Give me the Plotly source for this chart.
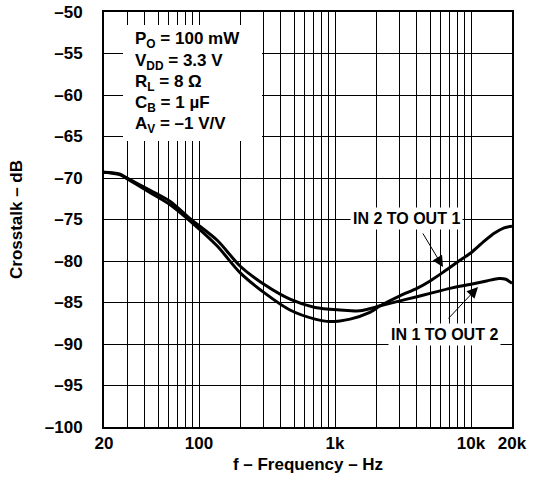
import plotly.graph_objects as go
import math

# ---- data ----
freq_in2_out1 = [20, 26, 31, 44, 61, 86, 136, 200, 306, 466, 713, 918, 1290, 1800,
                 2150, 3000, 4000, 5000, 6300, 8000, 10000, 12500, 15000, 17500, 20000]
xtalk_in2_out1 = [-69.3, -69.6, -70.3, -71.8, -73.2, -75.2, -78.2, -81.4, -83.9, -85.9,
                  -87.0, -87.3, -87.0, -86.2, -85.4, -84.2, -83.3, -82.4, -81.3, -80.1,
                  -79.0, -77.6, -76.6, -76.0, -75.8]

freq_in1_out2 = [20, 26, 31, 44, 61, 86, 136, 200, 306, 466, 713, 1088, 1520, 2150,
                 3000, 4000, 5000, 7000, 10000, 13000, 16000, 18000, 20000]
xtalk_in1_out2 = [-69.3, -69.5, -70.2, -71.5, -72.8, -74.9, -77.5, -80.6, -82.9, -84.6,
                  -85.6, -85.9, -86.0, -85.4, -84.8, -84.3, -83.9, -83.3, -82.8, -82.4,
                  -82.1, -82.2, -82.7]

x_major_vals = [20, 100, 1000, 10000, 20000]
x_major_text = ["20", "100", "1k", "10k", "20k"]
x_minor_vals = [30, 40, 50, 60, 70, 80, 90,
                200, 300, 400, 500, 600, 700, 800, 900,
                2000, 3000, 4000, 5000, 6000, 7000, 8000, 9000]

y_tick_vals = [-50, -55, -60, -65, -70, -75, -80, -85, -90, -95, -100]
y_tick_text = ["–" + str(abs(v)) for v in y_tick_vals]

cond_lines = ["P<sub>O</sub> = 100 mW",
              "V<sub>DD</sub> = 3.3 V",
              "R<sub>L</sub> = 8 Ω",
              "C<sub>B</sub> = 1 µF",
              "A<sub>V</sub> = –1 V/V"]

FONT = "Liberation Sans, Arial, Helvetica, sans-serif"

fig = go.Figure()
fig.add_trace(go.Scatter(x=freq_in2_out1, y=xtalk_in2_out1, mode="lines",
                         line=dict(color="black", width=3, shape="spline", smoothing=0.8),
                         name="IN 2 TO OUT 1", showlegend=False))
fig.add_trace(go.Scatter(x=freq_in1_out2, y=xtalk_in1_out2, mode="lines",
                         line=dict(color="black", width=3, shape="spline", smoothing=0.8),
                         name="IN 1 TO OUT 2", showlegend=False))

W, H = 535, 480
L, R, T, B = 104, 23, 12, 53
PW, PH = W - L - R, H - T - B

def px(xp):
    return (xp - L) / PW

def py(yp):
    return 1 - (yp - T) / PH

# white box behind the conditions text
fig.add_shape(type="rect", xref="paper", yref="paper",
              x0=px(123), x1=px(262), y0=py(141), y1=py(25),
              fillcolor="white", line=dict(width=0), layer="above")

cond_y = [38, 59.5, 80.5, 101.5, 122.5]
for txt, yy in zip(cond_lines, cond_y):
    fig.add_annotation(xref="paper", yref="paper", x=px(133), y=py(yy + 2),
                       text=txt, showarrow=False, xanchor="left", yanchor="middle",
                       font=dict(family=FONT, size=17, color="black", weight="bold"))

# curve labels
fig.add_annotation(xref="paper", yref="paper", x=px(406), y=py(218),
                   text="IN 2 TO OUT 1", showarrow=False, bgcolor="white", borderpad=2,
                   xanchor="center", yanchor="middle",
                   font=dict(family=FONT, size=16, color="black", weight="bold"))
fig.add_annotation(xref="paper", yref="paper", x=px(444), y=py(334),
                   text="IN 1 TO OUT 2", showarrow=False, bgcolor="white", borderpad=2,
                   xanchor="center", yanchor="middle",
                   font=dict(family=FONT, size=16, color="black", weight="bold"))

# arrows
fig.add_annotation(xref="paper", yref="paper", x=px(443), y=py(267),
                   ax=-21, ay=-35, text="", showarrow=True,
                   arrowhead=2, arrowsize=2.2, arrowwidth=1, arrowcolor="black")
fig.add_annotation(xref="paper", yref="paper", x=px(478), y=py(287),
                   ax=-31, ay=33, text="", showarrow=True,
                   arrowhead=2, arrowsize=2.2, arrowwidth=1, arrowcolor="black")

tickfont = dict(family=FONT, size=17, color="black", weight="bold")
titlefont = dict(family=FONT, size=17, color="black", weight="bold")

fig.update_xaxes(type="log", range=[math.log10(20), math.log10(20000)],
                 tickmode="array", tickvals=x_major_vals, ticktext=x_major_text,
                 showgrid=True, gridcolor="black", gridwidth=1.2,
                 minor=dict(tickmode="array", tickvals=x_minor_vals, showgrid=True,
                            gridcolor="black", gridwidth=1.2, ticks=""),
                 showline=True, linecolor="black", linewidth=2, mirror=True,
                 ticks="", tickfont=tickfont,
                 title=dict(text="f – Frequency – Hz", font=titlefont, standoff=6),
                 zeroline=False)
fig.update_yaxes(range=[-100, -50], tickmode="array",
                 tickvals=y_tick_vals, ticktext=y_tick_text,
                 showgrid=True, gridcolor="black", gridwidth=1.2,
                 showline=True, linecolor="black", linewidth=2, mirror=True,
                 ticks="", tickfont=tickfont, ticklabelstandoff=16,
                 title=dict(text="Crosstalk – dB", font=titlefont, standoff=18),
                 zeroline=False)

fig.update_layout(width=W, height=H,
                  margin=dict(l=L, r=R, t=T, b=B, autoexpand=False),
                  paper_bgcolor="white", plot_bgcolor="white",
                  showlegend=False)

fig.write_html("out.html", config={"displayModeBar": False},
               post_script="document.body.style.margin='0';document.body.style.padding='0';")
